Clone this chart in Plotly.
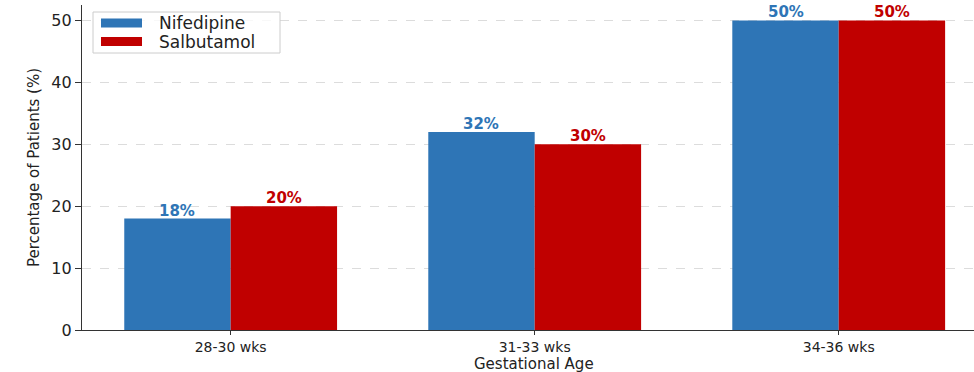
import plotly.graph_objects as go

# Data
categories = ["28-30 wks", "31-33 wks", "34-36 wks"]
nifedipine = [18, 32, 50]
salbutamol = [20, 30, 50]
series_names = ["Nifedipine", "Salbutamol"]
y_ticks = [0, 10, 20, 30, 40, 50]

BLUE = "#2E75B6"
RED = "#C00000"
FONT = "DejaVu Sans"

W, H = 974, 372
M_L, M_R, M_T, M_B = 82, 0, 5, 42
PW, PH = W - M_L - M_R, H - M_T - M_B
BAR_W = 0.35  # width of each bar in category units

x_pos = list(range(len(categories)))

fig = go.Figure()
annotations = []
for i, (name, vals, col) in enumerate([(series_names[0], nifedipine, BLUE),
                                       (series_names[1], salbutamol, RED)]):
    offset = (i - 0.5) * BAR_W
    fig.add_trace(go.Bar(
        x=x_pos, y=vals, name=name, width=BAR_W, offset=offset - BAR_W / 2,
        marker=dict(color=col, line=dict(width=0)), showlegend=False,
    ))
    # value labels above each bar
    for xp, v in zip(x_pos, vals):
        annotations.append(dict(
            x=xp + offset, y=v, xref="x", yref="y", text=f"{v}%", showarrow=False,
            xanchor="center", yanchor="bottom", yshift=-3,
            font=dict(family=FONT, size=15, color=col, weight="bold"),
        ))


def px_x(p):
    return (p - M_L) / PW


def px_y(p):
    return (H - M_B - p) / PH


# legend box drawn in paper coordinates
shapes = [dict(type="rect", xref="paper", yref="paper",
               x0=px_x(93), x1=px_x(280), y0=px_y(53), y1=px_y(12),
               line=dict(color="#cccccc", width=1),
               fillcolor="rgba(255,255,255,0.8)", layer="above")]
for name, col, cy in [(series_names[0], BLUE, 23), (series_names[1], RED, 41.5)]:
    shapes.append(dict(type="rect", xref="paper", yref="paper",
                       x0=px_x(101), x1=px_x(142), y0=px_y(cy + 4.5), y1=px_y(cy - 4.5),
                       line=dict(width=0), fillcolor=col, layer="above"))
    annotations.append(dict(xref="paper", yref="paper", x=px_x(157), y=px_y(cy),
                            xanchor="left", yanchor="middle", text=name, showarrow=False,
                            font=dict(family=FONT, size=17, color="#222222")))

# x-axis title
annotations.append(dict(xref="paper", yref="paper", x=px_x(534), y=px_y(364),
                        xanchor="center", yanchor="middle", text="Gestational Age",
                        showarrow=False, font=dict(family=FONT, size=15, color="#222222")))

fig.update_layout(
    width=W, height=H,
    margin=dict(l=M_L, r=M_R, t=M_T, b=M_B),
    paper_bgcolor="white", plot_bgcolor="white",
    barmode="overlay",
    shapes=shapes, annotations=annotations,
    font=dict(family=FONT, color="#222222"),
    xaxis=dict(
        range=[-0.489, 2.445], tickvals=x_pos, ticktext=categories,
        showgrid=False, zeroline=False,
        showline=True, linecolor="#333333", linewidth=1.2,
        ticks="outside", ticklen=4, tickcolor="#333333",
        tickfont=dict(family=FONT, size=14, color="#222222"),
    ),
    yaxis=dict(
        range=[0, 52.5], tickvals=y_ticks,
        showgrid=True, gridcolor="#dcdcdc", griddash="dash", gridwidth=1,
        zeroline=False,
        showline=True, linecolor="#333333", linewidth=1.2,
        ticks="outside", ticklen=6, tickcolor="#333333",
        tickfont=dict(family=FONT, size=16, color="#222222"),
        title=dict(text="Percentage of Patients (%)", font=dict(family=FONT, size=15, color="#222222"), standoff=8),
    ),
)

fig.write_html("out.html")
